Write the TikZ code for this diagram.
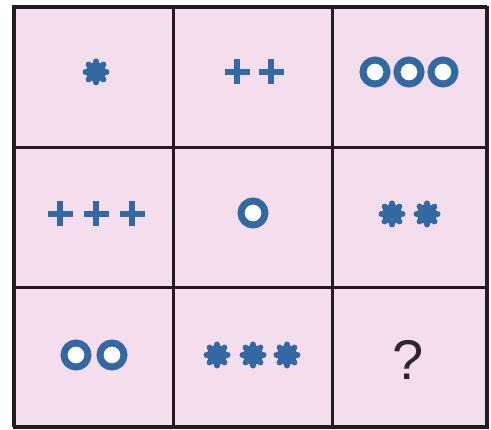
\documentclass[tikz,border=0pt]{standalone}
\usepackage{fontspec}
\setmainfont{Liberation Sans}
\definecolor{cellpink}{RGB}{244,222,238}
\definecolor{symblue}{RGB}{52,104,163}
\definecolor{gridline}{RGB}{38,26,34}
\definecolor{qcol}{RGB}{45,36,48}
\tikzset{
  gridframe/.style={draw=gridline, line width=2.8pt},
  cellbox/.style={draw=gridline, line width=2.6pt, fill=cellpink, minimum width=159pt, minimum height=140pt, inner sep=0pt, anchor=north west},
  pics/ringsym/.style={code={
    \draw[symblue, fill=white, line width=7pt] (0,0) circle (12pt);
  }},
  pics/starsym/.style={code={
    \fill[symblue] (0,0) circle (10pt);
    \foreach \a in {0,45,...,315}{
      \draw[symblue, line width=6pt, line cap=round] (0,0) -- (\a:10.5pt);
    }
  }},
  pics/plussym/.style={code={
    \draw[symblue, line width=5.5pt] (-12.5pt,0) -- (12.5pt,0) (0,-12.5pt) -- (0,12.5pt);
  }},
}
\begin{document}
\begin{tikzpicture}[x=1pt,y=-1pt]
\useasboundingbox (0,0) rectangle (491,430);
\fill[white] (0,0) rectangle (491,430);
% cells
\node[cellbox, minimum width=159pt] (c11) at (13,6) {};
\node[cellbox, minimum width=159pt] (c12) at (172,6) {};
\node[cellbox, minimum width=155pt] (c13) at (331,6) {};
\node[cellbox, minimum width=159pt] (c21) at (13,146) {};
\node[cellbox, minimum width=159pt] (c22) at (172,146) {};
\node[cellbox, minimum width=155pt] (c23) at (331,146) {};
\node[cellbox, minimum width=159pt] (c31) at (13,286) {};
\node[cellbox, minimum width=159pt] (c32) at (172,286) {};
\node[cellbox, minimum width=155pt] (c33) at (331,286) {};
\draw[gridframe] (13,6) rectangle (486,426);
% row 1
\pic at (96,72) {starsym};
\pic at (237,72) {plussym};
\pic at (271,72) {plussym};
\pic at (375,72) {ringsym};
\pic at (409,72) {ringsym};
\pic at (443,72) {ringsym};
% row 2
\pic at (60,214) {plussym};
\pic at (96,214) {plussym};
\pic at (132,214) {plussym};
\pic at (253,213) {ringsym};
\pic at (392,214) {starsym};
\pic at (427,214) {starsym};
% row 3
\pic at (76,355) {ringsym};
\pic at (112,355) {ringsym};
\pic at (217,355) {starsym};
\pic at (253,355) {starsym};
\pic at (287,355) {starsym};
\node[text=qcol, font=\fontsize{56}{56}\selectfont, inner sep=0pt] (q) at (408,360) {?};
\end{tikzpicture}
\end{document}
